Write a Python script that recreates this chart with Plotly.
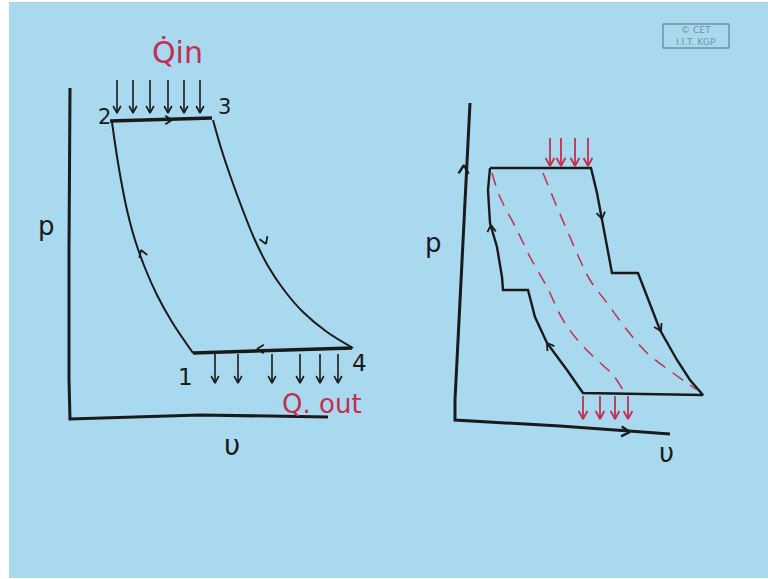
import numpy as np
import plotly.graph_objects as go

# sketch coordinates are in screen pixels (y grows downward)
bg = "#a9d9ef"
ink = "#1a1a1a"
red = "#c42e4e"

# ---- left sketch: simple cycle on p-v axes
axis_l_x = [70, 69, 69, 70, 200, 328]
axis_l_y = [88, 250, 380, 419, 415, 417]

line_23_x = [110, 212]
line_23_y = [121, 118]
curve_21_x = [112, 116, 121, 127, 135, 145, 157, 172, 193]
curve_21_y = [122, 150, 180, 210, 240, 268, 295, 322, 353]
curve_34_x = [213, 221, 231, 242, 254, 268, 284, 303, 327, 353]
curve_34_y = [120, 148, 178, 208, 238, 266, 290, 312, 332, 348]
line_14_x = [193, 352]
line_14_y = [353, 348]

qin_x = [117, 133, 150, 168, 184, 200]
qin_top, qin_bot = 80, 113
qout_x = [215, 238, 272, 300, 320, 338]
qout_top, qout_bot = 354, 383

# ---- right sketch: multistage compression / reheat
axis_r_x = [470, 462, 455, 455, 560, 670]
axis_r_y = [103, 260, 400, 420, 426, 434]

cycle_r_x = [490, 591, 597, 602, 607, 612, 638, 647, 660, 677, 690, 703,
             583, 567, 547, 535, 528, 503, 502, 497, 490, 488, 490]
cycle_r_y = [168, 168, 193, 220, 250, 273, 273, 297, 330, 360, 380, 395,
             393, 370, 343, 317, 290, 290, 277, 247, 223, 190, 168]

dash1_x = [492, 500, 517, 530, 547, 563, 580, 597, 613, 623]
dash1_y = [173, 197, 230, 257, 287, 320, 343, 360, 375, 390]
dash2_x = [543, 557, 570, 580, 590, 607, 627, 647, 673, 697]
dash2_y = [173, 207, 237, 260, 280, 303, 330, 353, 373, 390]

hin_x = [550, 561, 575, 588]
hin_top, hin_bot = 138, 166
hout_x = [583, 600, 615, 628]
hout_top, hout_bot = 396, 419

# direction marks: x, y, heading in degrees (screen frame)
marks_l = [(172, 120, 0), (266, 244, 68), (257, 349, 180), (141, 250, -110)]
marks_r = [(602, 219, 80), (661, 331, 62), (547, 343, -125), (491, 225, -95)]
marks_axis = [(464, 165, -87), (630, 432, 4)]


def chevrons(marks, size=8, spread=32):
    xs, ys = [], []
    for x, y, ang in marks:
        a = np.radians(ang)
        for s in (1, -1):
            b = a + np.pi + s * np.radians(spread)
            xs += [x + size * np.cos(b), x, None]
            ys += [y + size * np.sin(b), y, None]
    return xs, ys


def down_arrows(cols, top, bot, size=7):
    xs, ys = [], []
    for x in cols:
        xs += [x, x, None, x - size * 0.55, x, x + size * 0.55, None]
        ys += [top, bot, None, bot - size, bot, bot - size, None]
    return xs, ys


fig = go.Figure()


def add_line(x, y, color=ink, width=2.5, dash="solid"):
    fig.add_trace(go.Scatter(x=x, y=y, mode="lines", hoverinfo="skip",
                             line=dict(color=color, width=width, dash=dash,
                                       shape="spline", smoothing=1.0)))


def add_poly(x, y, color=ink, width=2):
    fig.add_trace(go.Scatter(x=x, y=y, mode="lines", hoverinfo="skip",
                             line=dict(color=color, width=width)))


add_poly(axis_l_x, axis_l_y, width=3)
add_poly(line_23_x, line_23_y, width=3.5)
add_line(curve_21_x, curve_21_y, width=2)
add_line(curve_34_x, curve_34_y, width=2)
add_poly(line_14_x, line_14_y, width=3.5)

ax_, ay_ = down_arrows(qin_x, qin_top, qin_bot)
add_poly(ax_, ay_, width=1.6)
ax_, ay_ = down_arrows(qout_x, qout_top, qout_bot)
add_poly(ax_, ay_, width=1.6)

add_poly(axis_r_x, axis_r_y, width=3)
add_poly(cycle_r_x, cycle_r_y, width=2.4)
add_line(dash1_x, dash1_y, color=red, width=1.5, dash="13px,9px")
add_line(dash2_x, dash2_y, color=red, width=1.5, dash="13px,9px")

ax_, ay_ = down_arrows(hin_x, hin_top, hin_bot, size=8)
add_poly(ax_, ay_, color=red, width=1.8)
ax_, ay_ = down_arrows(hout_x, hout_top, hout_bot, size=8)
add_poly(ax_, ay_, color=red, width=1.8)

cx, cy = chevrons(marks_l + marks_r)
add_poly(cx, cy, width=1.8)
cx, cy = chevrons(marks_axis, size=10, spread=30)
add_poly(cx, cy, width=2.4)

labels = [
    ("2", 104, 117, 21, ink), ("3", 224, 107, 21, ink),
    ("1", 185, 377, 23, ink), ("4", 359, 363, 23, ink),
    ("p", 46, 226, 26, ink), ("υ", 232, 445, 28, ink),
    ("p", 433, 243, 26, ink), ("υ", 666, 453, 26, ink),
    ("Q̇in", 177, 52, 30, red), ("Q. out", 322, 404, 26, red),
]
for txt, x, y, size, col in labels:
    fig.add_annotation(x=x, y=y, text=txt, showarrow=False,
                       font=dict(family="DejaVu Sans", size=size, color=col),
                       xanchor="center", yanchor="middle")

# watermark box
fig.add_shape(type="rect", x0=663, y0=24, x1=729, y1=48,
              line=dict(color="#6f93ab", width=1.5), fillcolor="rgba(0,0,0,0)")
fig.add_annotation(x=696, y=36, text="© CET<br>I.I.T. KGP", showarrow=False,
                   font=dict(family="DejaVu Sans", size=9, color="#6f93ab"),
                   align="center")

fig.update_layout(
    width=768, height=579,
    margin=dict(l=9, r=0, t=2, b=1),
    paper_bgcolor="white", plot_bgcolor=bg,
    showlegend=False,
)
fig.update_xaxes(range=[9, 768], visible=False, fixedrange=True)
fig.update_yaxes(range=[578, 2], visible=False, fixedrange=True)

fig.write_html("out.html", config={"displayModeBar": False},
               post_script="document.body.style.margin='0';")
